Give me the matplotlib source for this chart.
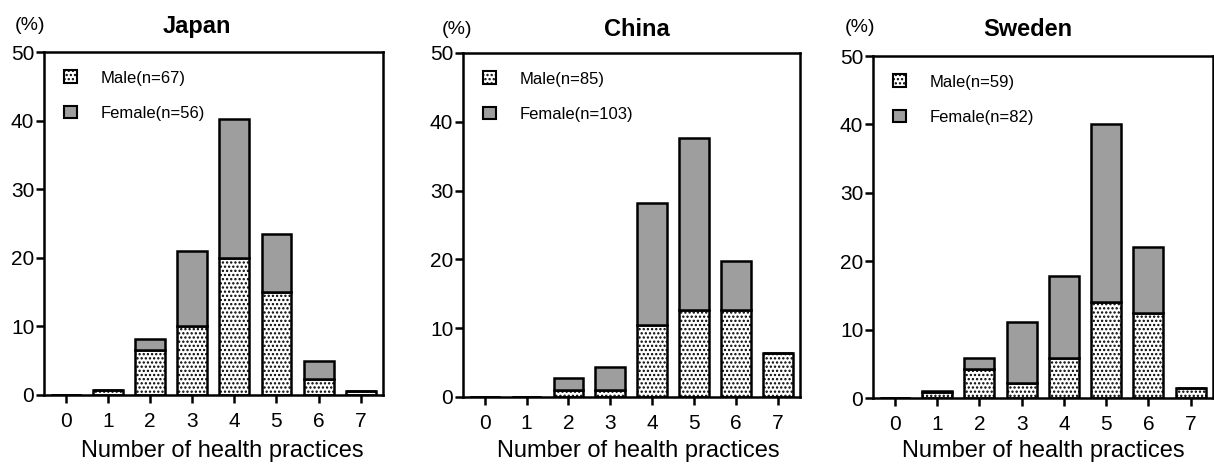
import matplotlib
matplotlib.use("Agg")
import matplotlib.pyplot as plt
from matplotlib.patches import Patch
import numpy as np

plt.rcParams['font.family'] = ['Liberation Sans', 'DejaVu Sans']
plt.rcParams['hatch.linewidth'] = 1.1

practices = [0, 1, 2, 3, 4, 5, 6, 7]

countries = ["Japan", "China", "Sweden"]
male_labels = ["Male(n=67)", "Male(n=85)", "Male(n=59)"]
female_labels = ["Female(n=56)", "Female(n=103)", "Female(n=82)"]

japan_male = [0, 0.7, 6.5, 10.0, 20.0, 15.0, 2.3, 0.6]
japan_female = [0, 0, 1.7, 11.0, 20.3, 8.4, 2.6, 0]
china_male = [0, 0, 1.0, 1.0, 10.4, 12.6, 12.6, 6.4]
china_female = [0, 0, 1.7, 3.3, 17.8, 25.0, 7.1, 0]
sweden_male = [0, 0.9, 4.3, 2.2, 5.9, 14.0, 12.5, 1.5]
sweden_female = [0, 0.1, 1.6, 8.9, 11.9, 26.0, 9.6, 0]

males = [japan_male, china_male, sweden_male]
females = [japan_female, china_female, sweden_female]

W, H = 1214, 466
fig = plt.figure(figsize=(W / 100, H / 100), dpi=100)

# axes boxes in pixels: left, right, top, bottom
boxes = [(44, 383, 52, 395), (463, 800, 53, 397), (873, 1213, 56, 398)]
title_pos = [(197, 27), (637, 30), (1028, 30)]
pct_pos = [(30, 25), (457, 30), (860, 27)]
xlabel_pos = [(222, 451), (638, 451), (1043, 451)]

gray = '#9e9e9e'

for i, c in enumerate(countries):
    l, r, t, b = boxes[i]
    ax = fig.add_axes([l / W, 1 - b / H, (r - l) / W, (b - t) / H])
    m = np.array(males[i])
    f = np.array(females[i])
    ax.bar(practices, m, width=0.71, facecolor='white', edgecolor='black',
           hatch='....', linewidth=1.8, zorder=2)
    ax.bar(practices, f, bottom=m, width=0.71, facecolor=gray, edgecolor='black',
           linewidth=1.8, zorder=2)
    ax.set_xlim(-0.52, 7.53)
    ax.set_ylim(0, 50)
    ax.set_xticks(practices)
    ax.set_yticks([0, 10, 20, 30, 40, 50])
    ax.tick_params(axis='both', direction='out', length=6, width=1.8,
                   labelsize=15)
    ax.tick_params(axis='x', pad=6)
    ax.tick_params(axis='y', pad=1)
    for s in ax.spines.values():
        s.set_linewidth(1.8)
    handles = [Patch(facecolor='white', edgecolor='black', hatch='....', linewidth=1.5),
               Patch(facecolor=gray, edgecolor='black', linewidth=1.5)]
    ax.legend(handles, [male_labels[i], female_labels[i]], loc='upper left',
              bbox_to_anchor=(0.015, 0.99), frameon=False, fontsize=12,
              handlelength=0.8, handleheight=0.8, handletextpad=1.4,
              labelspacing=1.2)
    tx, ty = title_pos[i]
    fig.text(tx / W, 1 - ty / H, c, ha='center', va='center',
             fontsize=17, fontweight='bold')
    px, py = pct_pos[i]
    fig.text(px / W, 1 - py / H, "(%)", ha='center', va='center', fontsize=14)
    lx, ly = xlabel_pos[i]
    fig.text(lx / W, 1 - ly / H, "Number of health practices", ha='center',
             va='center', fontsize=17)

fig.savefig("out.png", dpi=100)
